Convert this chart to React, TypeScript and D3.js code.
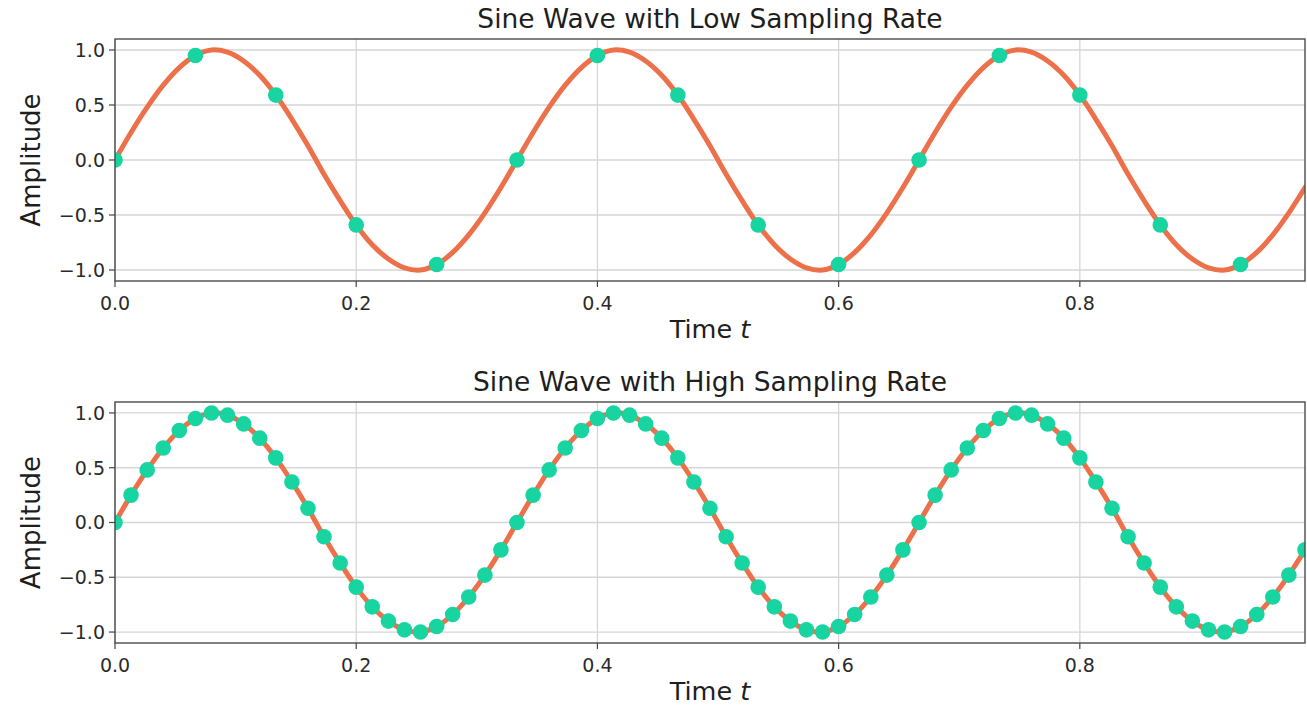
import React from "react";
import * as d3 from "d3";

// Low sampling rate samples (15 Hz)
const lowTimes = [0, 0.0667, 0.1333, 0.2, 0.2667, 0.3333, 0.4, 0.4667, 0.5333, 0.6, 0.6667, 0.7333, 0.8, 0.8667, 0.9333];
const lowValues = [0, 0.95, 0.59, -0.59, -0.95, 0, 0.95, 0.59, -0.59, -0.95, 0, 0.95, 0.59, -0.59, -0.95];

// High sampling rate samples (75 Hz)
const highTimes = [
  0, 0.0133, 0.0267, 0.04, 0.0533, 0.0667, 0.08, 0.0933, 0.1067, 0.12, 0.1333, 0.1467, 0.16, 0.1733, 0.1867,
  0.2, 0.2133, 0.2267, 0.24, 0.2533, 0.2667, 0.28, 0.2933, 0.3067, 0.32, 0.3333, 0.3467, 0.36, 0.3733, 0.3867,
  0.4, 0.4133, 0.4267, 0.44, 0.4533, 0.4667, 0.48, 0.4933, 0.5067, 0.52, 0.5333, 0.5467, 0.56, 0.5733, 0.5867,
  0.6, 0.6133, 0.6267, 0.64, 0.6533, 0.6667, 0.68, 0.6933, 0.7067, 0.72, 0.7333, 0.7467, 0.76, 0.7733, 0.7867,
  0.8, 0.8133, 0.8267, 0.84, 0.8533, 0.8667, 0.88, 0.8933, 0.9067, 0.92, 0.9333, 0.9467, 0.96, 0.9733, 0.9867,
];
const highValues = [
  0, 0.25, 0.48, 0.68, 0.84, 0.95, 1.0, 0.98, 0.9, 0.77, 0.59, 0.37, 0.13, -0.13, -0.37,
  -0.59, -0.77, -0.9, -0.98, -1.0, -0.95, -0.84, -0.68, -0.48, -0.25, 0, 0.25, 0.48, 0.68, 0.84,
  0.95, 1.0, 0.98, 0.9, 0.77, 0.59, 0.37, 0.13, -0.13, -0.37, -0.59, -0.77, -0.9, -0.98, -1.0,
  -0.95, -0.84, -0.68, -0.48, -0.25, 0, 0.25, 0.48, 0.68, 0.84, 0.95, 1.0, 0.98, 0.9, 0.77,
  0.59, 0.37, 0.13, -0.13, -0.37, -0.59, -0.77, -0.9, -0.98, -1.0, -0.95, -0.84, -0.68, -0.48, -0.25,
];

const xTicks = [0, 0.2, 0.4, 0.6, 0.8];
const yTicks = [1.0, 0.5, 0.0, -0.5, -1.0];
const titles = ["Sine Wave with Low Sampling Rate", "Sine Wave with High Sampling Rate"];

const W = 1307;
const H = 707;
const LEFT = 115;
const RIGHT = 1305;
const LINE_COLOR = "#EC7049";
const MARK_COLOR = "#17D4A0";
const FONT = "DejaVu Sans, sans-serif";

const fmtY = (v: number) => (v < 0 ? "\u2212" : "") + Math.abs(v).toFixed(1);

type PanelProps = {
  idx: number;
  top: number;
  bottom: number;
  sampT: number[];
  sampV: number[];
};

function Panel({ idx, top, bottom, sampT, sampV }: PanelProps) {
  const x = d3.scaleLinear().domain([0, highTimes[highTimes.length - 1]]).range([LEFT, RIGHT]);
  const y = d3.scaleLinear().domain([-1.1, 1.1]).range([bottom, top]);
  const pts: [number, number][] = highTimes.map((t, i) => [t, highValues[i]]);
  const line = d3
    .line<[number, number]>()
    .x((d) => x(d[0]))
    .y((d) => y(d[1]))
    .curve(d3.curveCatmullRom.alpha(0.5));
  const clipId = `clip-${idx}`;
  const cy = (top + bottom) / 2;
  return (
    <g>
      <defs>
        <clipPath id={clipId}>
          <rect x={LEFT} y={top} width={RIGHT - LEFT} height={bottom - top} />
        </clipPath>
      </defs>
      {/* grid */}
      {xTicks.map((t) => (
        <line key={"gx" + t} x1={x(t)} x2={x(t)} y1={top} y2={bottom} stroke="#d6d6d6" strokeWidth={1.3} />
      ))}
      {yTicks.map((t) => (
        <line key={"gy" + t} x1={LEFT} x2={RIGHT} y1={y(t)} y2={y(t)} stroke="#d6d6d6" strokeWidth={1.3} />
      ))}
      <g clipPath={`url(#${clipId})`}>
        <path d={line(pts) || ""} fill="none" stroke={LINE_COLOR} strokeWidth={5} strokeLinecap="round" />
        {sampT.map((t, i) => (
          <circle key={i} cx={x(t)} cy={y(sampV[i])} r={7.8} fill={MARK_COLOR} />
        ))}
      </g>
      {/* spines */}
      <rect x={LEFT} y={top} width={RIGHT - LEFT} height={bottom - top} fill="none" stroke="#4a4a4a" strokeWidth={1.4} />
      {/* x ticks */}
      {xTicks.map((t) => (
        <g key={"xt" + t}>
          <line x1={x(t)} x2={x(t)} y1={bottom} y2={bottom + 6} stroke="#444" strokeWidth={1.2} />
          <text x={x(t)} y={bottom + 29} textAnchor="middle" fontSize={19} fill="#2a2a2a" fontFamily={FONT}>
            {t.toFixed(1)}
          </text>
        </g>
      ))}
      {/* y ticks */}
      {yTicks.map((t) => (
        <g key={"yt" + t}>
          <line x1={LEFT - 6} x2={LEFT} y1={y(t)} y2={y(t)} stroke="#444" strokeWidth={1.2} />
          <text x={LEFT - 10} y={y(t)} dy="0.36em" textAnchor="end" fontSize={19} fill="#2a2a2a" fontFamily={FONT}>
            {fmtY(t)}
          </text>
        </g>
      ))}
      {/* title */}
      <text x={(LEFT + RIGHT) / 2} y={top - 11} textAnchor="middle" fontSize={26.5} fill="#1e1e1e" fontFamily={FONT}>
        {titles[idx]}
      </text>
      {/* x label */}
      <text x={(LEFT + RIGHT) / 2} y={bottom + 57} textAnchor="middle" fontSize={25.5} fill="#1e1e1e" fontFamily={FONT}>
        Time <tspan fontStyle="italic">t</tspan>
      </text>
      {/* y label */}
      <text
        transform={`translate(40, ${cy}) rotate(-90)`}
        textAnchor="middle"
        fontSize={26}
        fill="#1e1e1e"
        fontFamily={FONT}
      >
        Amplitude
      </text>
    </g>
  );
}

export default function App() {
  return (
    <svg
      width={W}
      height={H}
      viewBox={`0 0 ${W} ${H}`}
      style={{ position: "absolute", left: 0, top: 0, background: "#fff" }}
    >
      <rect x={0} y={0} width={W} height={H} fill="#fff" />
      <Panel idx={0} top={39} bottom={281} sampT={lowTimes} sampV={lowValues} />
      <Panel idx={1} top={402} bottom={643} sampT={highTimes} sampV={highValues} />
    </svg>
  );
}
